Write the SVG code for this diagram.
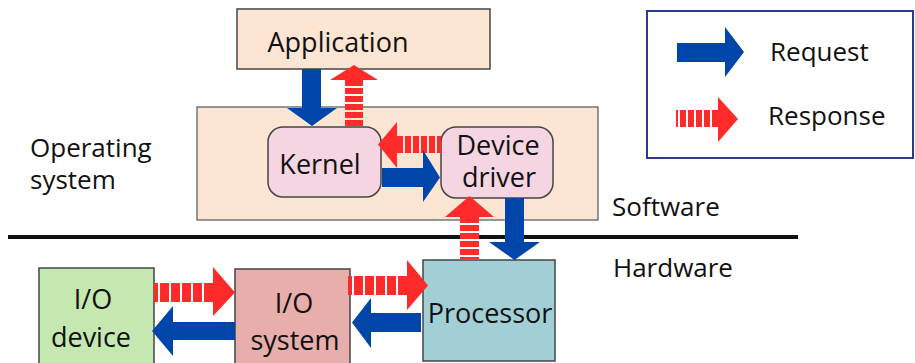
<svg xmlns="http://www.w3.org/2000/svg" width="915" height="363" viewBox="0 0 915 363">
<style>
text{font-family:"Open Sans","Noto Sans","Liberation Sans",sans-serif;fill:#111;}
.n{font-size:27px;text-anchor:middle;}
.l{font-size:26px;}
.box{stroke:#444;stroke-width:1.5;}
.blue{fill:#0046aa;}
.red{fill:#ff2b2b;}
.rs{stroke:#ff2b2b;stroke-dasharray:6 2;fill:none;}
.rsh{stroke:#ff2b2b;stroke-dasharray:9 2;fill:none;}
</style>
<rect width="915" height="363" fill="#fff"/>
<g id="application"><rect class="box" x="237" y="9" width="253" height="60" fill="#fde5d4"/><text class="n" x="338" y="52">Application</text></g>
<g id="os"><rect x="197" y="107" width="401" height="113" fill="#fde5d4" stroke="#555" stroke-width="1.2"/></g>
<g id="kernel"><rect class="box" x="268" y="127" width="113" height="70" rx="15" fill="#f5d5e1"/><text class="n" x="320" y="174">Kernel</text></g>
<g id="devicedriver"><rect class="box" x="441" y="127" width="112" height="71" rx="15" fill="#f5d5e1"/><text class="n" x="498" y="155">Device</text><text class="n" x="499" y="187">driver</text></g>
<g id="divider"><line x1="8" y1="237" x2="798" y2="237" stroke="#111" stroke-width="4"/></g>
<g id="processor"><rect class="box" x="423" y="260" width="132" height="101" fill="#a2cfd6"/><text class="n" x="490" y="323">Processor</text></g>
<g id="iodevice"><rect class="box" x="39" y="268" width="115" height="100" fill="#c5e8b0"/><text class="n" x="93" y="309">I/O</text><text class="n" x="91" y="347">device</text></g>
<g id="iosystem"><rect class="box" x="235" y="269" width="115" height="100" fill="#e8aeac"/><text class="n" x="294" y="313">I/O</text><text class="n" x="295" y="350">system</text></g>
<g id="labels">
<text class="l" x="30" y="157">Operating</text>
<text class="l" x="30" y="189">system</text>
<text class="l" x="612" y="216">Software</text>
<text class="l" x="613" y="277">Hardware</text>
</g>
<g id="legend">
<rect x="647" y="11" width="266" height="147" fill="#fff" stroke="#2e3a8c" stroke-width="2"/>
<polygon class="blue" points="677,43 725,43 725,27 744,52 725,77 725,62 677,62"/>
<text class="l" x="770" y="61">Request</text>
<line class="rs" x1="718" y1="118.5" x2="676" y2="118.5" stroke-width="17"/>
<polygon class="red" points="718,97 738,119 718,142"/>
<text class="l" x="768" y="125">Response</text>
</g>
<g id="connectors">
<polygon class="blue" points="302,69 321,69 321,108 337,108 312,126 287,108 302,108"/>
<line class="rs" x1="354" y1="80" x2="354" y2="127" stroke-width="18"/>
<polygon class="red" points="330,80 354,65 378,80"/>
<line class="rs" x1="397" y1="144.5" x2="441" y2="144.5" stroke-width="17"/>
<polygon class="red" points="397,122 378,144.5 397,168"/>
<polygon class="blue" points="382,168 423,168 423,150 440,177.5 423,202 423,187 382,187"/>
<polygon class="blue" points="505,198 524,198 524,242 540,242 514.5,260 489,242 505,242"/>
<line class="rs" x1="469.5" y1="217" x2="469.5" y2="259" stroke-width="19"/>
<polygon class="red" points="445,217 469.5,196 494,217"/>
<line class="rsh" x1="213" y1="292.5" x2="154" y2="292.5" stroke-width="19"/>
<polygon class="red" points="213,267 235,292.5 213,316"/>
<polygon class="blue" points="235,322 173,322 173,306 152,331 173,356 173,340 235,340"/>
<line class="rsh" x1="407" y1="285.5" x2="348" y2="285.5" stroke-width="19"/>
<polygon class="red" points="407,260 428,285.5 407,310"/>
<polygon class="blue" points="421,313 371,313 371,298 352,322.5 371,348 371,332 421,332"/>
</g>
</svg>
